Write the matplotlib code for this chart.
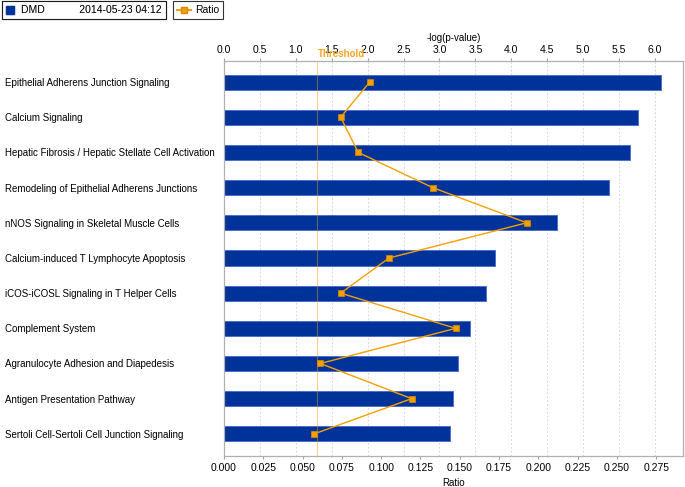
import numpy as np
import matplotlib.pyplot as plt
from matplotlib.patches import Patch
from matplotlib.lines import Line2D

plt.rcParams['font.family'] = ['Liberation Sans', 'DejaVu Sans']
plt.rcParams['font.size'] = 7

# Kanonyczne szlaki, od góry do dołu
pathways = [
    "Epithelial Adherens Junction Signaling",
    "Calcium Signaling",
    "Hepatic Fibrosis / Hepatic Stellate Cell Activation",
    "Remodeling of Epithelial Adherens Junctions",
    "nNOS Signaling in Skeletal Muscle Cells",
    "Calcium-induced T Lymphocyte Apoptosis",
    "iCOS-iCOSL Signaling in T Helper Cells",
    "Complement System",
    "Agranulocyte Adhesion and Diapedesis",
    "Antigen Presentation Pathway",
    "Sertoli Cell-Sertoli Cell Junction Signaling",
]
neg_log_p = [6.09, 5.77, 5.65, 5.36, 4.63, 3.77, 3.65, 3.42, 3.26, 3.19, 3.14]
ratio = [0.0927, 0.0742, 0.0854, 0.1328, 0.1926, 0.1050, 0.0742, 0.1474,
         0.0613, 0.1194, 0.0574]
threshold = 1.3
top_ticks = np.arange(0, 6.01, 0.5)
bottom_ticks = np.arange(0, 0.2751, 0.025)

blue = '#003399'
orange = '#F5A000'
gray = '#A0A0A0'

fig = plt.figure(figsize=(6.85, 4.87), dpi=100)
ax = fig.add_axes([224 / 685, 1 - 456 / 487, 459 / 685, 395 / 487])
ax2 = ax.twiny()  # oś Ratio (twiny przestawia ticki ax, więc najpierw)
y = np.arange(len(pathways))

# słupki -log(p)
ax.barh(y, neg_log_p, height=0.43, color=blue, edgecolor='#4466CC',
        linewidth=0.6, zorder=2)
ax.set_xlim(0, 6.39)
ax.set_ylim(len(pathways) - 0.37, -0.6)
ax.xaxis.tick_top()
ax.xaxis.set_label_position('top')
ax.set_xticks(top_ticks)
ax.set_xticklabels([f"{t:.1f}" for t in top_ticks])
ax.set_xlabel('-log(p-value)', labelpad=3)
ax.tick_params(axis='x', length=2, color=gray, pad=2, labelsize=7.5)
ax.grid(axis='x', linestyle=(0, (2, 2)), color='#D8D8D8', linewidth=0.7, zorder=0)
ax.set_axisbelow(True)

ax.set_yticks(y)
ax.set_yticklabels(pathways)
ax.tick_params(axis='y', length=0, pad=219 * 0.72)
for lab in ax.get_yticklabels():
    lab.set_horizontalalignment('left')

for s in ax.spines.values():
    s.set_color('#B0B0B0')
    s.set_linewidth(0.8)

# linia progu
ax.axvline(threshold, color=orange, alpha=0.45, linewidth=0.8, zorder=3)
ax.text(threshold, 1.005, 'Threshold', transform=ax.get_xaxis_transform(),
        color='#F5A623', fontsize=7, ha='left', va='bottom', fontweight='bold')

# linia Ratio, oś na dole
ax2.plot(ratio, y, color=orange, linewidth=1, marker='s', markersize=5,
         markerfacecolor=orange, markeredgecolor='#D98A00',
         markeredgewidth=0.5, zorder=4)
ax2.set_xlim(0, 0.292)
ax2.xaxis.tick_bottom()
ax2.xaxis.set_label_position('bottom')
ax2.set_xticks(bottom_ticks)
ax2.set_xticklabels([f"{t:.3f}" for t in bottom_ticks])
ax2.set_xlabel('Ratio', labelpad=4)
ax2.tick_params(axis='x', length=2, color=gray, pad=3, labelsize=7.5)
for s in ax2.spines.values():
    s.set_color('#B0B0B0')
    s.set_linewidth(0.8)

# legendy na górze
leg1 = fig.legend(handles=[Patch(facecolor=blue, edgecolor=blue)],
                  labels=['DMD            2014-05-23 04:12'],
                  loc='upper left', bbox_to_anchor=(2 / 685, 1 - 1 / 487),
                  frameon=True, fancybox=False, edgecolor='black',
                  handlelength=0.8, handleheight=0.8, handletextpad=0.6,
                  borderpad=0.4, borderaxespad=0, fontsize=7.5)
leg1.get_frame().set_linewidth(0.8)
leg2 = fig.legend(handles=[Line2D([0], [0], color=orange, marker='s',
                                  markersize=5, markerfacecolor=orange,
                                  markeredgecolor='#D98A00')],
                  labels=['Ratio'],
                  loc='upper left', bbox_to_anchor=(173 / 685, 1 - 1 / 487),
                  frameon=True, fancybox=False, edgecolor='black',
                  handlelength=1.3, handletextpad=0.4,
                  borderpad=0.4, borderaxespad=0, fontsize=7.5)
leg2.get_frame().set_linewidth(0.8)
fig.add_artist(leg1)

fig.savefig('out.png', dpi=100)
